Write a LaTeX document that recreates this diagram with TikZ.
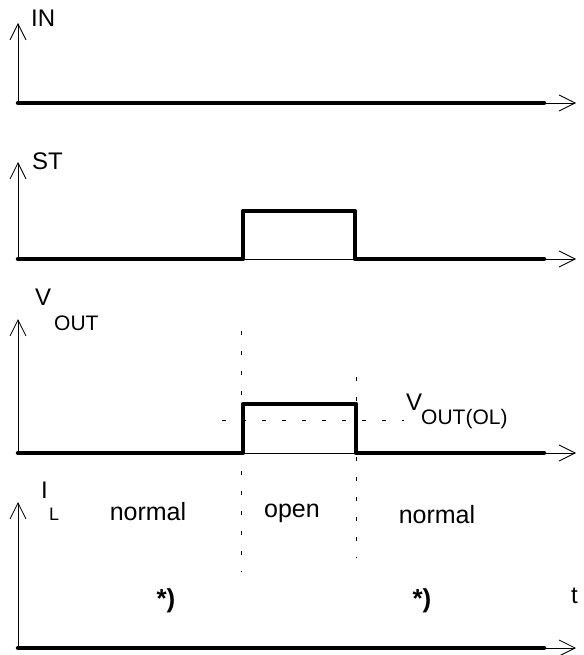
\documentclass[tikz,border=0pt]{standalone}
\usepackage{fontspec}
\setmainfont{Liberation Sans}
\usetikzlibrary{arrows.meta}
\tikzstyle{axis}=[draw,line width=0.8pt,-{Straight Barb[length=16pt,width=16pt]}]
\tikzstyle{signal}=[draw,line width=4.5pt,line cap=round,line join=round]
\tikzstyle{marker}=[draw,line width=0.9pt,dash pattern=on 4pt off 16pt]
\tikzstyle{sigtext}=[inner sep=0pt,font=\fontsize{24}{28}\selectfont]
\tikzstyle{subtext}=[inner sep=0pt,font=\fontsize{21}{25}\selectfont]
\tikzstyle{zonetext}=[inner sep=0pt,font=\fontsize{25}{30}\selectfont]
\tikzstyle{notetext}=[inner sep=0pt,font=\fontsize{26}{30}\selectfont\bfseries]

\begin{document}
\begin{tikzpicture}[x=1pt,y=-1pt]
    \useasboundingbox (0,0) rectangle (583,655);
    % First we place the origins and the ends of the axes
    \foreach \name/\base/\top in {in/103/23, st/259/162, vout/453/319, il/648/502}{
        \coordinate (\name) at (18,\base);
        \coordinate (\name-up) at (18,\top);
        \coordinate (\name-end) at (576,\base);
        \coordinate (\name-stop) at (544,\base);
    }
    % Draw the axes
    \foreach \name in {in,st,vout,il}{
        \path[axis] (\name) -- (\name-up);
        \path[axis] (\name) -- (\name-end);
    }
    % Pulse corners
    \coordinate (st-rise) at (243,259);
    \coordinate (st-high) at (355,211);
    \coordinate (st-fall) at (355,259);
    \coordinate (vout-rise) at (243,453);
    \coordinate (vout-high) at (356,404);
    \coordinate (vout-fall) at (356,453);
    % Then the signals
    \path[signal] (in) -- (in-stop);
    \path[signal] (st) -- (st-rise) |- (st-high) -- (st-fall) -- (st-stop);
    \path[signal] (vout) -- (vout-rise) |- (vout-high) -- (vout-fall) -- (vout-stop);
    \path[signal] (il) -- (il-stop);
    % Level and time markers
    \coordinate (ol-a) at (222,420);
    \coordinate (ol-b) at (404,420);
    \coordinate (open-a) at (241,331);
    \coordinate (open-b) at (241,572);
    \coordinate (close-a) at (356,377);
    \coordinate (close-b) at (356,558);
    \path[marker] (ol-a) -- (ol-b);
    \path[marker] (open-a) -- (open-b);
    \path[marker] (close-a) -- (close-b);
    % Labels
    \node[sigtext,anchor=base west] (in-label) at (31,27) {IN};
    \node[sigtext,anchor=base west] (st-label) at (32,169) {ST};
    \node[sigtext,anchor=base west] (vout-label) at (35,305) {V};
    \node[subtext,anchor=base west] (vout-sub) at (54,330) {OUT};
    \node[sigtext,anchor=base west] (ol-label) at (406,410) {V};
    \node[subtext,anchor=base west] (ol-sub) at (421,424) {OUT(OL)};
    \node[sigtext,anchor=base west] (il-label) at (41,498) {I};
    \node[subtext,font=\fontsize{18}{22}\selectfont,anchor=base west] (il-sub) at (49,520) {L};
    \node[zonetext,anchor=base] (normal-a) at (148,520) {normal};
    \node[zonetext,anchor=base] (open) at (292,517) {open};
    \node[zonetext,anchor=base] (normal-b) at (437,523) {normal};
    \node[notetext,anchor=base] (note-a) at (166,607) {*)};
    \node[notetext,anchor=base] (note-b) at (422,607) {*)};
    \node[sigtext,anchor=base west] (t-label) at (571,603) {t};
\end{tikzpicture}
\end{document}
